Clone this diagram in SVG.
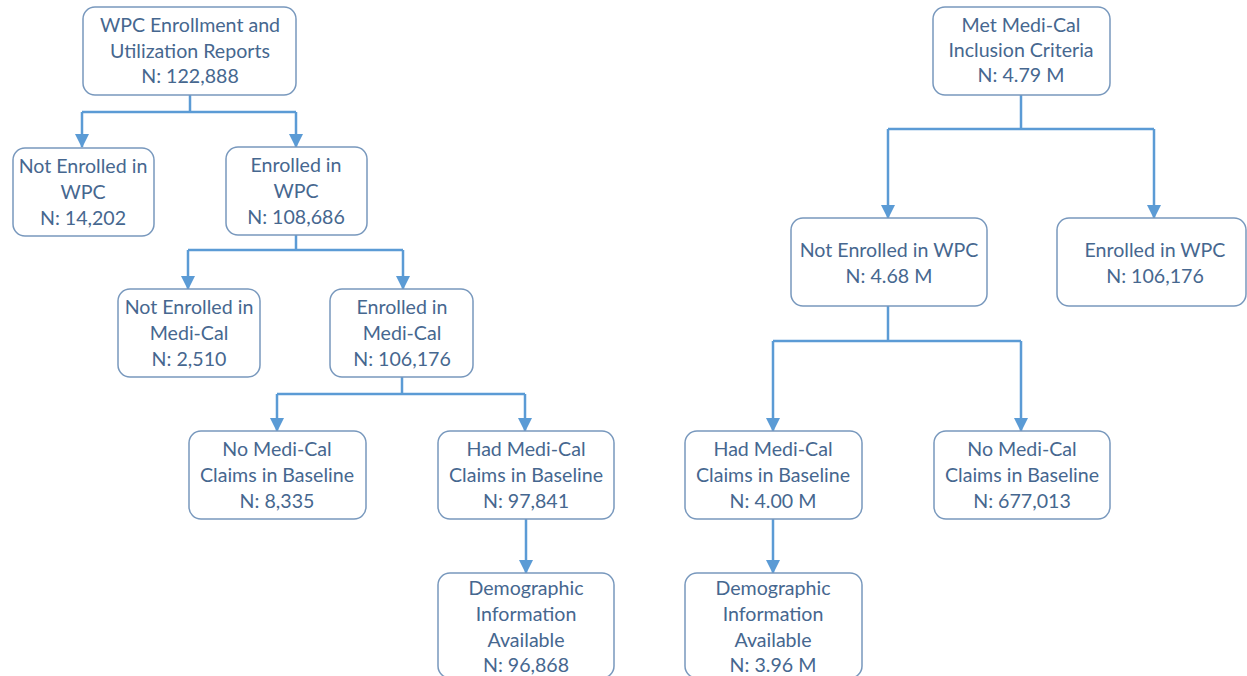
<svg xmlns="http://www.w3.org/2000/svg" width="1247" height="676" viewBox="0 0 1247 676">
<defs>
<style>
.box{fill:#ffffff;stroke:#7898bd;stroke-width:1.5}
.t{font-family:Lato,"Open Sans","Liberation Sans",sans-serif;font-size:19.6px;fill:#46678f;text-anchor:middle}
.c{fill:none;stroke:#5b9bd5;stroke-width:2.5}
</style>
<marker id="ah" markerUnits="userSpaceOnUse" markerWidth="14" markerHeight="14" refX="13" refY="7" orient="auto" viewBox="0 0 14 14">
<path d="M0,0 L14,7 L0,14 z" fill="#5b9bd5"/>
</marker>
</defs>
<rect width="1247" height="676" fill="#ffffff"/>
<g id="connectors">
<path class="c" d="M190 95 V112 M82 112 H296"/>
<path class="c" d="M82 112 V147" marker-end="url(#ah)"/>
<path class="c" d="M296 112 V147" marker-end="url(#ah)"/>
<path class="c" d="M296 235 V250 M188 250 H403"/>
<path class="c" d="M188 250 V289" marker-end="url(#ah)"/>
<path class="c" d="M403 250 V289" marker-end="url(#ah)"/>
<path class="c" d="M402 377 V394 M277 394 H525"/>
<path class="c" d="M277 394 V431" marker-end="url(#ah)"/>
<path class="c" d="M525 394 V431" marker-end="url(#ah)"/>
<path class="c" d="M526 519 V573" marker-end="url(#ah)"/>
<path class="c" d="M1021 95 V129 M888 129 H1154"/>
<path class="c" d="M888 129 V218" marker-end="url(#ah)"/>
<path class="c" d="M1154 129 V218" marker-end="url(#ah)"/>
<path class="c" d="M888 306 V341 M773 341 H1021"/>
<path class="c" d="M773 341 V431" marker-end="url(#ah)"/>
<path class="c" d="M1021 341 V431" marker-end="url(#ah)"/>
<path class="c" d="M773 519 V573" marker-end="url(#ah)"/>
</g>
<g id="n1"><rect class="box" x="83" y="7" width="213" height="88" rx="12"/>
<text class="t" x="190" y="32">WPC Enrollment and</text><text class="t" x="190" y="58">Utilization Reports</text><text class="t" x="190" y="83">N: 122,888</text></g>
<g id="n2"><rect class="box" x="13" y="148" width="141" height="88" rx="12"/>
<text class="t" x="83" y="173">Not Enrolled in</text><text class="t" x="83" y="199">WPC</text><text class="t" x="83" y="225">N: 14,202</text></g>
<g id="n3"><rect class="box" x="226" y="147" width="141" height="88" rx="12"/>
<text class="t" x="296" y="172">Enrolled in</text><text class="t" x="296" y="198">WPC</text><text class="t" x="296" y="224">N: 108,686</text></g>
<g id="n4"><rect class="box" x="118" y="289" width="142" height="88" rx="12"/>
<text class="t" x="189" y="314">Not Enrolled in</text><text class="t" x="189" y="340">Medi-Cal</text><text class="t" x="189" y="366">N: 2,510</text></g>
<g id="n5"><rect class="box" x="330" y="289" width="143" height="88" rx="12"/>
<text class="t" x="402" y="314">Enrolled in</text><text class="t" x="402" y="340">Medi-Cal</text><text class="t" x="402" y="366">N: 106,176</text></g>
<g id="n6"><rect class="box" x="189" y="431" width="177" height="88" rx="12"/>
<text class="t" x="277" y="456">No Medi-Cal</text><text class="t" x="277" y="482">Claims in Baseline</text><text class="t" x="277" y="508">N: 8,335</text></g>
<g id="n7"><rect class="box" x="438" y="431" width="176" height="88" rx="12"/>
<text class="t" x="526" y="456">Had Medi-Cal</text><text class="t" x="526" y="482">Claims in Baseline</text><text class="t" x="526" y="508">N: 97,841</text></g>
<g id="n8"><rect class="box" x="438" y="573" width="176" height="105" rx="12"/>
<text class="t" x="526" y="595">Demographic</text><text class="t" x="526" y="621">Information</text><text class="t" x="526" y="647">Available</text><text class="t" x="526" y="672">N: 96,868</text></g>
<g id="r1"><rect class="box" x="933" y="7" width="177" height="88" rx="12"/>
<text class="t" x="1021" y="32">Met Medi-Cal</text><text class="t" x="1021" y="57">Inclusion Criteria</text><text class="t" x="1021" y="82">N: 4.79 M</text></g>
<g id="r2"><rect class="box" x="791" y="218" width="196" height="88" rx="12"/>
<text class="t" x="889" y="257">Not Enrolled in WPC</text><text class="t" x="889" y="283">N: 4.68 M</text></g>
<g id="r3"><rect class="box" x="1057" y="218" width="189" height="88" rx="12"/>
<text class="t" x="1155" y="257">Enrolled in WPC</text><text class="t" x="1155" y="283">N: 106,176</text></g>
<g id="r4"><rect class="box" x="685" y="431" width="177" height="88" rx="12"/>
<text class="t" x="773" y="456">Had Medi-Cal</text><text class="t" x="773" y="482">Claims in Baseline</text><text class="t" x="773" y="508">N: 4.00 M</text></g>
<g id="r5"><rect class="box" x="934" y="431" width="176" height="88" rx="12"/>
<text class="t" x="1022" y="456">No Medi-Cal</text><text class="t" x="1022" y="482">Claims in Baseline</text><text class="t" x="1022" y="508">N: 677,013</text></g>
<g id="r6"><rect class="box" x="685" y="573" width="177" height="105" rx="12"/>
<text class="t" x="773" y="595">Demographic</text><text class="t" x="773" y="621">Information</text><text class="t" x="773" y="647">Available</text><text class="t" x="773" y="672">N: 3.96 M</text></g>
</svg>
